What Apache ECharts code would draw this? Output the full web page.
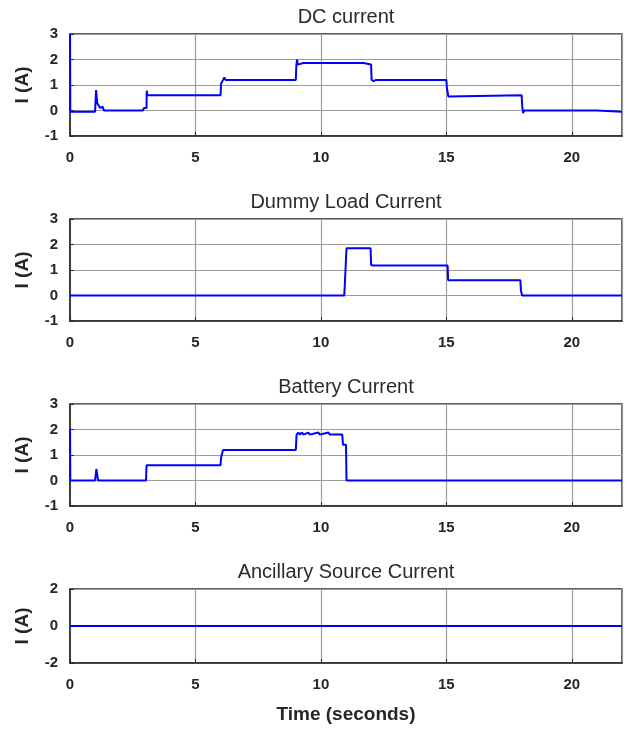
<!DOCTYPE html>
<html>
<head>
<meta charset="utf-8">
<script src="https://cdn.jsdelivr.net/npm/echarts@6/dist/echarts.min.js"></script>
<style>
  html, body { margin: 0; padding: 0; background: #ffffff; }
  #chart { width: 630px; height: 731px; }
</style>
</head>
<body>
<div id="chart"></div>
<script>
// Panel titles and shared tick labels
const panelTitles = ['DC current', 'Dummy Load Current', 'Battery Current', 'Ancillary Source Current'];
const timeTicks = [0, 5, 10, 15, 20];

// DC bus current (s, A)
const dcTime = [0, 0.01, 1.0, 1.02, 1.04, 1.08, 1.12, 1.2, 1.3, 1.35, 1.45, 1.5, 1.6, 2.9, 2.95, 3.05, 3.06, 3.08,
  6.0, 6.02, 6.1, 6.15, 6.2, 9.0, 9.02, 9.05, 9.08,
  9.3, 9.34, 9.6, 9.64, 9.9, 9.94, 10.2, 10.24, 10.5, 10.54, 10.8, 10.84, 11.1, 11.14, 11.4, 11.44, 11.7, 11.74,
  12.0, 12.02, 12.1, 12.2, 15.0, 15.02, 15.08, 15.15, 18.0, 18.02, 18.06, 18.1, 21.0, 21.05, 22];
const dcAmps = [3, -0.05, -0.05, -0.1, 0.8, 0.3, 0.35, 0.1, 0.15, 0.0, 0.0, -0.03, 0.0, 0.0, 0.1, 0.1, 0.78, 0.6,
  0.6, 1.05, 1.2, 1.3, 1.2, 1.2, 1.75, 2.0, 1.8,
  1.86, 1.8, 1.86, 1.8, 1.86, 1.8, 1.86, 1.8, 1.86, 1.8, 1.86, 1.8, 1.86, 1.8, 1.86, 1.8, 1.86, 1.8,
  1.8, 1.2, 1.15, 1.2, 1.2, 0.9, 0.55, 0.6, 0.6, 0.2, -0.1, 0.0, 0.0, -0.05, -0.05];

// Dummy load current (s, A)
const loadTime = [0, 10.93, 10.95, 11.0, 11.02, 11.2, 11.22, 11.4, 11.42, 11.6, 11.62, 11.98,
  12.0, 12.04, 12.1, 15.05, 15.07, 17.95, 17.97, 18.02, 22];
const loadAmps = [0, 0, 0.37, 0.4, 1.85, 1.85, 1.78, 1.85, 1.78, 1.85, 1.78, 1.85,
  1.2, 1.15, 1.18, 1.18, 0.6, 0.6, 0.2, 0.0, 0];

// Battery current (s, A)
const battTime = [0, 0.01, 1.0, 1.05, 1.12, 3.03, 3.05, 6.0, 6.02, 6.08, 6.1, 9.0, 9.03,
  9.1, 9.15, 9.25, 9.3, 9.5, 9.55, 9.9, 9.95, 10.3, 10.35, 10.85, 10.88, 11.0, 11.02, 22];
const battAmps = [2.05, 0, 0, 0.45, 0, 0, 0.6, 0.6, 0.9, 0.9, 1.2, 1.2, 1.8,
  1.88, 1.8, 1.88, 1.8, 1.88, 1.8, 1.88, 1.8, 1.88, 1.8, 1.8, 1.4, 1.4, 0, 0];

// Ancillary source current (s, A)
const auxTime = [0, 22];
const auxAmps = [0, 0];

const pairs = (t, v) => t.map((x, i) => [x, v[i]]);
const seriesData = [pairs(dcTime, dcAmps), pairs(loadTime, loadAmps), pairs(battTime, battAmps), pairs(auxTime, auxAmps)];

const yRanges = [[-1, 3, 1], [-1, 3, 1], [-1, 3, 1], [-2, 2, 2]];
const gridTops = [34, 219, 404, 589];
const gridHeights = [102, 102, 102, 74];

const plotLeft = 70, plotRight = 622;
const axisColor = '#2b2b2b';
const gridColor = '#9c9c9c';
const labelFont = { fontFamily: 'Liberation Sans', fontWeight: 'bold', fontSize: 15, color: '#262626' };

const grids = [], xAxes = [], yAxes = [], series = [], graphics = [];
for (let i = 0; i < 4; i++) {
  grids.push({ left: plotLeft, right: 630 - plotRight, top: gridTops[i], height: gridHeights[i],
    show: true, borderColor: axisColor, borderWidth: 1.5, backgroundColor: '#ffffff' });
  xAxes.push({
    type: 'value', gridIndex: i, min: 0, max: 22, interval: 5,
    axisLine: { show: true, onZero: false, lineStyle: { color: axisColor, width: 1.5 } },
    axisTick: { show: true, inside: true, length: 4, lineStyle: { color: axisColor } },
    axisLabel: Object.assign({ margin: 14, showMaxLabel: false,
      formatter: v => (timeTicks.indexOf(v) >= 0 ? String(v) : '') }, labelFont),
    splitLine: { show: true, lineStyle: { color: gridColor, width: 1.2 } },
    name: i === 3 ? 'Time (seconds)' : '', nameLocation: 'middle', nameGap: 42,
    nameTextStyle: { fontFamily: 'Liberation Sans', fontWeight: 'bold', fontSize: 19, color: '#262626' }
  });
  yAxes.push({
    type: 'value', gridIndex: i, min: yRanges[i][0], max: yRanges[i][1], interval: yRanges[i][2],
    axisLine: { show: true, lineStyle: { color: axisColor, width: 1.5 } },
    axisTick: { show: true, inside: true, length: 4, lineStyle: { color: axisColor } },
    axisLabel: Object.assign({ margin: 12 }, labelFont),
    splitLine: { show: true, lineStyle: { color: gridColor, width: 1.2 } },
    name: 'I (A)', nameLocation: 'middle', nameGap: 38, nameRotate: 90,
    nameTextStyle: { fontFamily: 'Liberation Sans', fontWeight: 'bold', fontSize: 19, color: '#262626' }
  });
  series.push({
    type: 'line', xAxisIndex: i, yAxisIndex: i, data: seriesData[i],
    showSymbol: false, lineStyle: { color: '#0000ff', width: 2 }, animation: false
  });
  graphics.push({
    type: 'text', x: (plotLeft + plotRight) / 2, y: gridTops[i] - 17,
    style: { text: panelTitles[i], fontFamily: 'Liberation Sans', fontSize: 20, fill: '#2b2b2b',
      align: 'center', verticalAlign: 'middle' }
  });
}

const chart = echarts.init(document.getElementById('chart'), null, { renderer: 'canvas' });
chart.setOption({
  backgroundColor: '#ffffff',
  animation: false,
  grid: grids,
  xAxis: xAxes,
  yAxis: yAxes,
  series: series,
  graphic: graphics
});
</script>
</body>
</html>
